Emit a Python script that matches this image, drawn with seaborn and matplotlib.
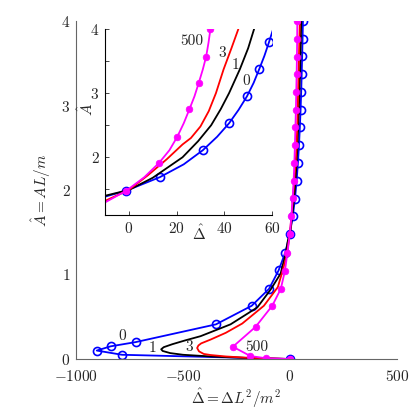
import matplotlib
matplotlib.use("Agg")
import matplotlib.pyplot as plt
import seaborn as sns

# traced curves: Delta-hat (x) against A-hat (y), one per label
curve_labels = ["0", "1", "3", "500"]

blue_d = [0, -785, -903, -838, -721, -346, -179, -98, -53, -22, -1, 13, 23, 31, 37,
          42, 46, 49.5, 52.3, 54.6, 56.8, 58.7, 60.5]
blue_a = [0, 0.05, 0.10, 0.15, 0.20, 0.41, 0.63, 0.83, 1.05, 1.26, 1.48, 1.69, 1.89, 2.11,
          2.32, 2.53, 2.74, 2.95, 3.16, 3.37, 3.58, 3.79, 4.0]

black_d = [0, -200, -371, -500, -560, -595, -602, -590, -550, -490, -418, -278, -153, -91,
           -44, -20, -10, 0, 10, 22.5, 29, 34.5, 38.5, 42, 46.5, 50, 52.5]
black_a = [0, 0.012, 0.03, 0.05, 0.07, 0.095, 0.115, 0.14, 0.175, 0.22, 0.27, 0.41, 0.61,
           0.82, 1.01, 1.25, 1.40, 1.49, 1.68, 2.0, 2.25, 2.5, 2.75, 3.0, 3.37, 3.7, 4.0]

red_d = [0, -200, -300, -371, -403, -425, -434, -428, -415, -371, -300, -223, -122, -57,
         -36, -18, -10, 0, 8, 15.9, 22.5, 26, 30, 33.5, 36.5, 39.7, 43, 45.9]
red_a = [0, 0.015, 0.03, 0.047, 0.06, 0.09, 0.13, 0.16, 0.185, 0.23, 0.31, 0.42, 0.63, 0.85,
         1.03, 1.2, 1.32, 1.49, 1.72, 1.97, 2.2, 2.3, 2.48, 2.72, 3.0, 3.37, 3.7, 4.0]

mag_d = [0, -110, -185, -267, -161, -83, -43, -24, -12, -1, 6.5, 12.6, 17, 20.3, 23, 25.4,
         27.5, 29.3, 31, 32.4, 33.4, 34.2]
mag_a = [0, 0.008, 0.035, 0.145, 0.38, 0.63, 0.83, 1.04, 1.255, 1.48, 1.69, 1.91, 2.11, 2.32,
         2.53, 2.75, 2.95, 3.16, 3.37, 3.57, 3.79, 4.0]

# which points carry markers in the inset
blue_inset_marks = [10, 11, 13, 15, 17, 19, 21]
mag_inset_marks = [9, 11, 13, 15, 17, 19, 21]

# label positions (Delta-hat, A-hat)
main_label_d = [-783, -644, -470, -153]
main_label_a = [0.27, 0.13, 0.145, 0.145]
inset_label_d = [49.2, 44.5, 39, 26.4]
inset_label_a = [3.19, 3.44, 3.62, 3.81]

sns.set_theme(style="white")
plt.rcParams.update({
    "font.family": "serif",
    "font.serif": ["cmr10"],
    "mathtext.fontset": "cm",
    "axes.formatter.use_mathtext": True,
    "font.size": 11,
})


def draw_curves(ax, blue_marks, mag_marks):
    lw = 1.3
    sns.lineplot(x=blue_d, y=blue_a, sort=False, estimator=None, ax=ax, color="#0000ff",
                 lw=lw, marker="o", markevery=blue_marks, ms=5.8, mfc="none",
                 mec="#0000ff", mew=1.2)
    sns.lineplot(x=black_d, y=black_a, sort=False, estimator=None, ax=ax, color="black", lw=lw)
    sns.lineplot(x=red_d, y=red_a, sort=False, estimator=None, ax=ax, color="#ff0000", lw=lw)
    sns.lineplot(x=mag_d, y=mag_a, sort=False, estimator=None, ax=ax, color="#ff00ff",
                 lw=lw, marker="o", markevery=mag_marks, ms=4.8, mfc="#ff00ff",
                 mec="#ff00ff", mew=0.5)


fig = plt.figure(figsize=(4.15, 4.15), dpi=100)

# main axes
ax = fig.add_axes([76 / 415, 56 / 415, 321 / 415, 338 / 415])
draw_curves(ax, list(range(len(blue_d))), list(range(len(mag_d))))
ax.set_xlim(-1000, 500)
ax.set_ylim(0, 4)
ax.set_xticks([-1000, -500, 0, 500])
ax.set_yticks([0, 1, 2, 3, 4])
ax.set_xlabel(r"$\hat{\Delta} = \Delta L^2/m^2$", fontsize=11, labelpad=2)
ax.set_ylabel(r"$\hat{A} = AL/m$", fontsize=11, labelpad=6)
for s in ["top", "right"]:
    ax.spines[s].set_visible(False)
for s in ["left", "bottom"]:
    ax.spines[s].set_color("0.4")
    ax.spines[s].set_linewidth(0.8)
ax.tick_params(direction="in", length=3, width=0.6, color="0.4", pad=4, labelsize=11)
ax.tick_params(axis="x", pad=7)
for lab, x, y in zip(curve_labels, main_label_d, main_label_a):
    ax.text(x, y, lab, ha="center", va="center", fontsize=11)

# inset axes
ax_in = fig.add_axes([105 / 415, 200 / 415, 167 / 415, 186 / 415])
draw_curves(ax_in, blue_inset_marks, mag_inset_marks)
ax_in.set_xlim(-10, 60)
ax_in.set_ylim(1.1, 4)
ax_in.set_xticks([0, 20, 40, 60])
ax_in.set_yticks([2, 3, 4])
ax_in.set_yticks([1.5, 2.5, 3.5], minor=True)
for s in ["top", "right"]:
    ax_in.spines[s].set_visible(False)
for s in ["left", "bottom"]:
    ax_in.spines[s].set_color("black")
    ax_in.spines[s].set_linewidth(0.8)
ax_in.tick_params(which="both", direction="in", length=3, width=0.6, pad=4, labelsize=11,
                  left=True, bottom=True)
ax_in.set_xlabel(r"$\hat{\Delta}$", fontsize=11)
ax_in.xaxis.set_label_coords(0.56, -0.1)
ax_in.xaxis.label.set_va("center")
ax_in.set_ylabel(r"$\hat{A}$", fontsize=11)
ax_in.yaxis.set_label_coords(-0.11, 0.565)
ax_in.yaxis.label.set_va("center")
for lab, x, y in zip(curve_labels, inset_label_d, inset_label_a):
    ax_in.text(x, y, lab, ha="center", va="center", fontsize=11)

fig.savefig("out.png", dpi=100)
